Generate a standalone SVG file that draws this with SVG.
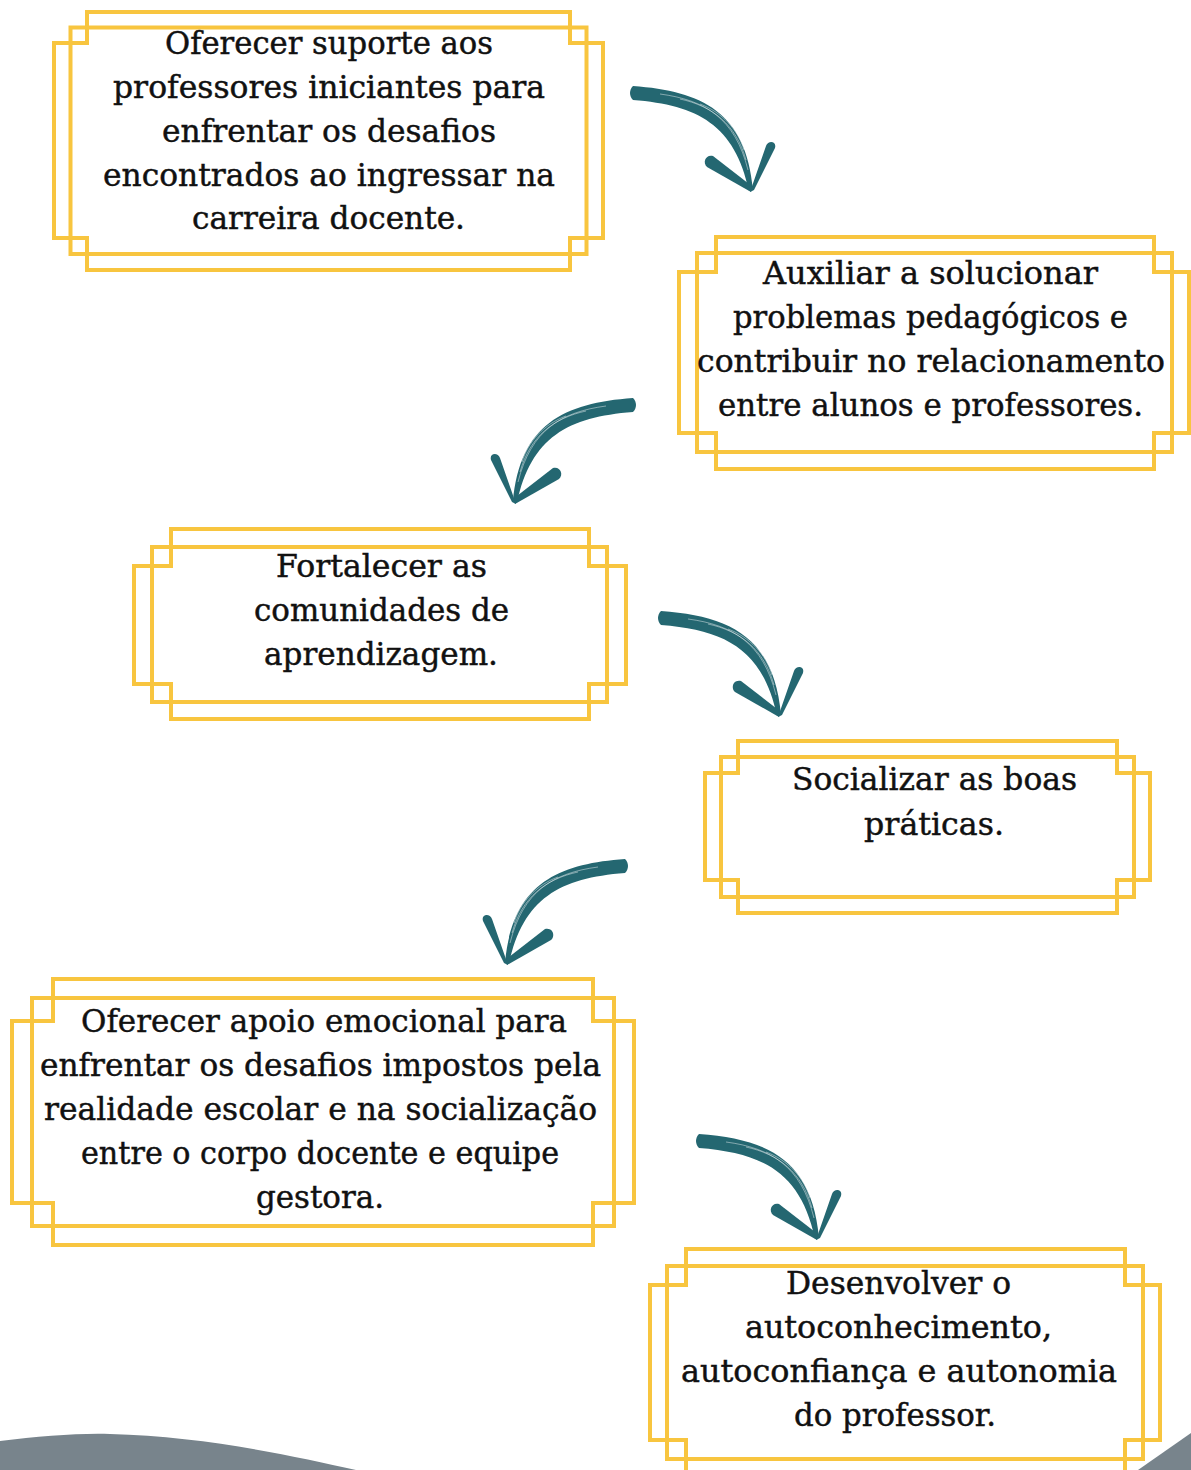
<svg xmlns="http://www.w3.org/2000/svg" width="1191" height="1470" viewBox="0 0 1191 1470">
<style>
.fr{fill:none;stroke:#F8C53F;stroke-width:4}
.t{font-family:"DejaVu Serif","Liberation Serif",serif;font-size:31px;fill:#111;stroke:#111;stroke-width:0.45;text-anchor:middle}
.ar{fill:#246771}
.st{fill:none;stroke:#fff;stroke-width:0.8;opacity:0.55}
.bg{fill:#78848C}
</style>
<defs>
<g id="arrow">
<path class="ar" d="M633,86 C702,91 746,112 753,190 L749,191 C735,125 698,105 633,100 C629,96 629,90 633,86 Z"/>
<path class="st" d="M660,94 C705,100 735,118 748,170"/>
<path class="st" d="M680,99 C712,106 736,124 746,160"/>
<path class="st" d="M700,104 C722,112 738,130 744,150"/>
<path class="ar" d="M751,192 L707,167 C702,162 706,154 713,156 L753,187 Z"/>
<path class="ar" d="M750,192 L766,146 C768,140 777,141 775,148 L754,190 Z"/>
</g>
</defs>
<rect width="1191" height="1470" fill="#fff"/>
<g id="bg-deco">
<path class="bg" d="M0,1441 C40,1436 80,1433 110,1434 C200,1436 290,1455 356,1470 L0,1470 Z"/>
<path class="bg" d="M1138,1470 L1191,1433 L1191,1470 Z"/>
</g>
<g id="connectors">
<use href="#arrow"/>
<use href="#arrow" transform="translate(1266,312) scale(-1,1)"/>
<use href="#arrow" transform="translate(28,525)"/>
<use href="#arrow" transform="translate(1258,773) scale(-1,1)"/>
<use href="#arrow" transform="translate(66,1048)"/>
</g>
<g id="node1">
<path class="fr" d="M87,12 H570 V43 H603 V238 H570 V270 H87 V238 H54 V43 H87 Z"/>
<rect class="fr" x="70.5" y="27.5" width="516" height="226.5"/>
<text class="t" x="329" y="54" textLength="328" lengthAdjust="spacingAndGlyphs">Oferecer suporte aos</text>
<text class="t" x="329" y="98" textLength="432" lengthAdjust="spacingAndGlyphs">professores iniciantes para</text>
<text class="t" x="329" y="142" textLength="334" lengthAdjust="spacingAndGlyphs">enfrentar os desafios</text>
<text class="t" x="329" y="186" textLength="452" lengthAdjust="spacingAndGlyphs">encontrados ao ingressar na</text>
<text class="t" x="328.5" y="229" textLength="273" lengthAdjust="spacingAndGlyphs">carreira docente.</text>
</g>
<g id="node2">
<path class="fr" d="M716,237 H1154 V272 H1189 V433 H1154 V469 H716 V433 H679 V272 H716 Z"/>
<rect class="fr" x="697" y="253" width="475" height="199"/>
<text class="t" x="930.5" y="284" textLength="335" lengthAdjust="spacingAndGlyphs">Auxiliar a solucionar</text>
<text class="t" x="930.5" y="328" textLength="395" lengthAdjust="spacingAndGlyphs">problemas pedagógicos e</text>
<text class="t" x="931" y="372" textLength="468" lengthAdjust="spacingAndGlyphs">contribuir no relacionamento</text>
<text class="t" x="930.5" y="416" textLength="425" lengthAdjust="spacingAndGlyphs">entre alunos e professores.</text>
</g>
<g id="node3">
<path class="fr" d="M171,529 H589 V566 H626 V684 H589 V719 H171 V684 H134 V566 H171 Z"/>
<rect class="fr" x="152" y="547" width="455" height="155"/>
<text class="t" x="381.5" y="577" textLength="211" lengthAdjust="spacingAndGlyphs">Fortalecer as</text>
<text class="t" x="381.5" y="621" textLength="255" lengthAdjust="spacingAndGlyphs">comunidades de</text>
<text class="t" x="381" y="665" textLength="234" lengthAdjust="spacingAndGlyphs">aprendizagem.</text>
</g>
<g id="node4">
<path class="fr" d="M738,741 H1117 V773 H1150 V880 H1117 V913 H738 V880 H705 V773 H738 Z"/>
<rect class="fr" x="721" y="757" width="413" height="140"/>
<text class="t" x="934.5" y="790" textLength="285" lengthAdjust="spacingAndGlyphs">Socializar as boas</text>
<text class="t" x="934" y="835" textLength="140" lengthAdjust="spacingAndGlyphs">práticas.</text>
</g>
<g id="node5">
<path class="fr" d="M53,979 H593 V1021 H634 V1203 H593 V1245 H53 V1203 H12 V1021 H53 Z"/>
<rect class="fr" x="32" y="998" width="582" height="228"/>
<text class="t" x="324" y="1032" textLength="486" lengthAdjust="spacingAndGlyphs">Oferecer apoio emocional para</text>
<text class="t" x="320.5" y="1076" textLength="561" lengthAdjust="spacingAndGlyphs">enfrentar os desafios impostos pela</text>
<text class="t" x="320.5" y="1120" textLength="553" lengthAdjust="spacingAndGlyphs">realidade escolar e na socialização</text>
<text class="t" x="320" y="1164" textLength="478" lengthAdjust="spacingAndGlyphs">entre o corpo docente e equipe</text>
<text class="t" x="320" y="1208" textLength="128" lengthAdjust="spacingAndGlyphs">gestora.</text>
</g>
<g id="node6">
<path class="fr" d="M686,1249 H1125 V1285 H1160 V1440 H1125 V1478 H686 V1440 H650 V1285 H686 Z"/>
<rect class="fr" x="667" y="1266" width="476" height="193"/>
<text class="t" x="898.5" y="1294" textLength="225" lengthAdjust="spacingAndGlyphs">Desenvolver o</text>
<text class="t" x="898.5" y="1338" textLength="307" lengthAdjust="spacingAndGlyphs">autoconhecimento,</text>
<text class="t" x="899" y="1382" textLength="436" lengthAdjust="spacingAndGlyphs">autoconfiança e autonomia</text>
<text class="t" x="895" y="1426" textLength="202" lengthAdjust="spacingAndGlyphs">do professor.</text>
</g>
</svg>
